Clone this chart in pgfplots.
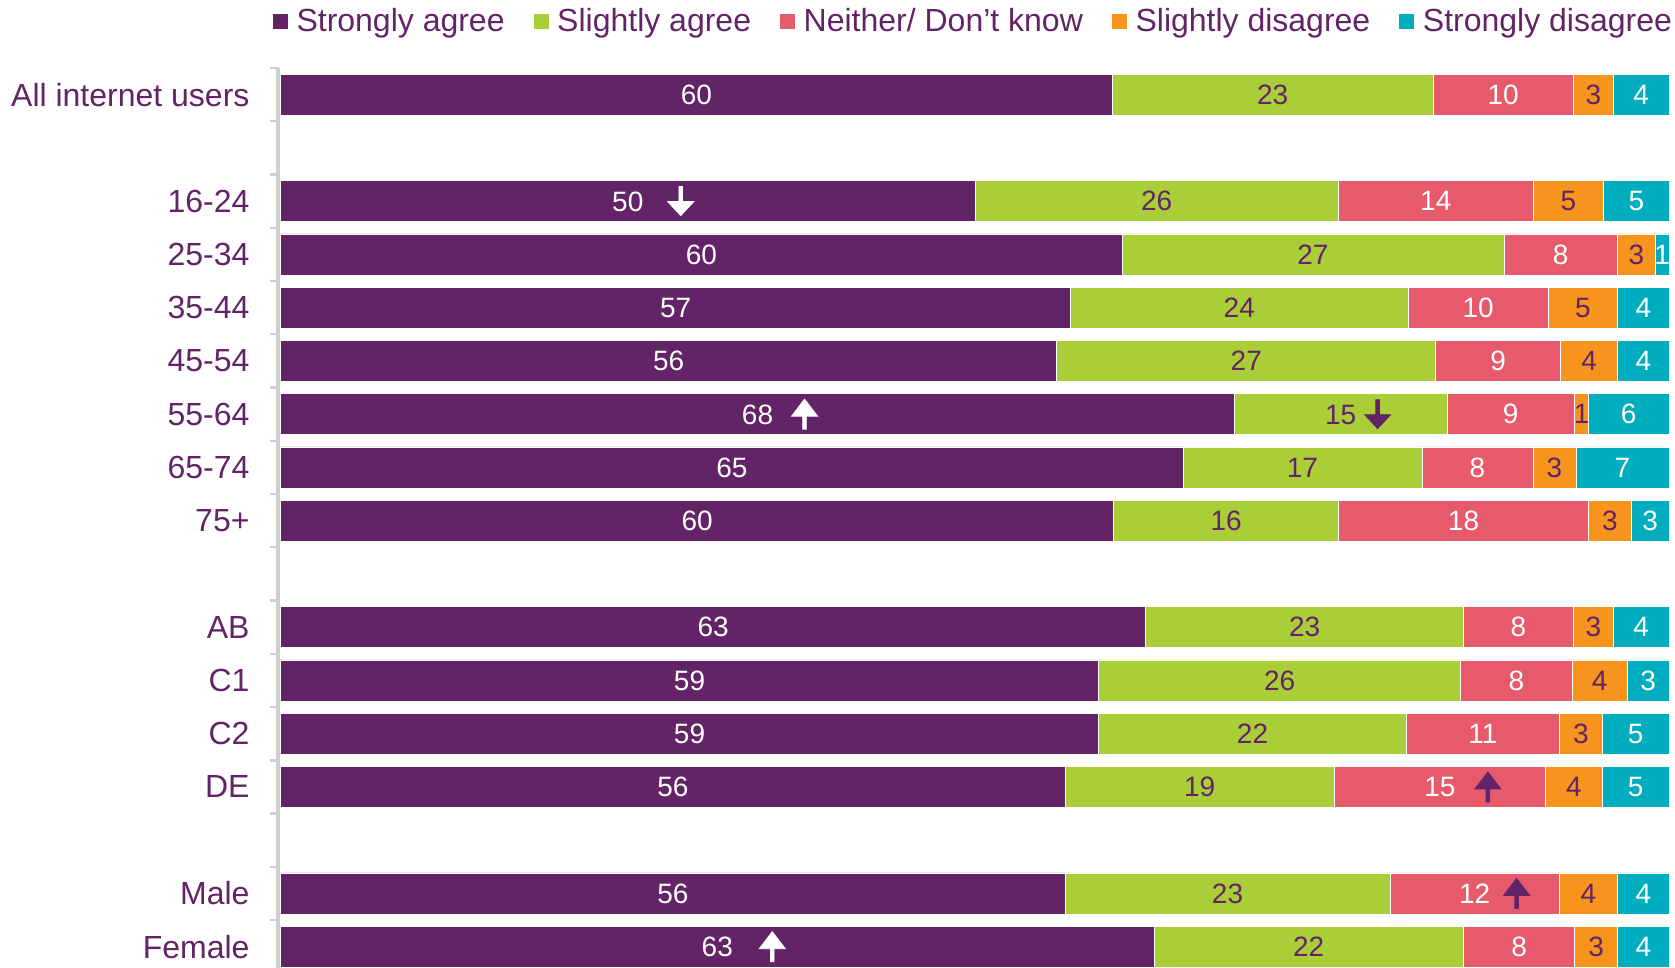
\documentclass[border=0pt]{standalone}
\usepackage{pgfplots}
\pgfplotsset{compat=1.18}
\usepackage{fontspec}
\setmainfont{Liberation Sans}
\definecolor{cP}{HTML}{622466}
\definecolor{cG}{HTML}{A9CE38}
\definecolor{cR}{HTML}{E65A6B}
\definecolor{cO}{HTML}{F7941E}
\definecolor{cT}{HTML}{00ADBF}
\definecolor{cAx}{HTML}{CFCFCF}
\protected\def\UP#1#2{\rlap{\hspace{#1pt}\tikz[baseline=0pt]{\fill[#2] (-0.9pt,-2.5pt) -- (-0.9pt,4pt) -- (-6.5pt,4pt) -- (0pt,12.5pt) -- (6.5pt,4pt) -- (0.9pt,4pt) -- (0.9pt,-2.5pt) -- cycle;}}}
\protected\def\DN#1#2{\rlap{\hspace{#1pt}\tikz[baseline=0pt]{\fill[#2] (-0.9pt,12.5pt) -- (-0.9pt,5pt) -- (-6.5pt,5pt) -- (0pt,-2pt) -- (6.5pt,5pt) -- (0.9pt,5pt) -- (0.9pt,12.5pt) -- cycle;}}}
\begin{document}
\begin{tikzpicture}
\begin{axis}[
  name=ax,
  scale only axis,
  x=6.9416pt, height=450pt,
  xmin=-0.2, xmax=100,
  ymin=-0.5, ymax=16.4,
  y dir=reverse,
  xbar stacked,
  bar width=20.5pt,
  axis x line=none,
  axis y line*=left,
  y axis line style={-, draw=cAx, line width=2pt},
  ytick={0,2,3,4,5,6,7,8,10,11,12,13,15,16},
  yticklabels={All internet users,16-24,25-34,35-44,45-54,55-64,65-74,75+,AB,C1,C2,DE,Male,Female},
  major tick length=0pt,
  minor ytick={-0.5,0.5,...,15.5},
  minor tick length=4pt,
  tick align=outside,
  minor tick style={draw=cAx, line width=1.2pt},
  yticklabel style={font=\fontsize{16}{19}\selectfont, text=cP, inner sep=0pt, xshift=-14pt},
  point meta=explicit symbolic,
  nodes near coords,
  every node near coord/.style={anchor=center, font=\fontsize{14}{16}\selectfont},
  every axis plot post/.append style={legend image code/.code={\fill[##1] (0pt,-4pt) rectangle (8pt,4pt);}},
  legend columns=5,
  legend cell align=left,
  legend style={at={(axis description cs:-0.0043,1.0521)}, anchor=west,
    draw=none, fill=none, inner sep=0pt, outer sep=0pt,
    font=\fontsize{16}{19}\selectfont, text=cP,
    nodes={inner sep=0pt},
    /tikz/every odd column/.append style={column sep=4pt},
    /tikz/every even column/.append style={column sep=14pt}},
]
\addplot[fill=cP, draw=white, line width=0.3pt, every node near coord/.append style={text=white}] coordinates {
(59.9,0) [60] (50.0,2) [50\DN{12}{white}] (60.6,3) [60] (56.9,4) [57] (55.9,5) [56]
(68.7,6) [68\UP{9}{white}] (65.0,7) [65] (60.0,8) [60] (62.3,10) [63] (58.9,11) [59]
(58.9,12) [59] (56.5,13) [56] (56.5,15) [56] (62.9,16) [63\UP{13}{white}]};
\addplot[fill=cG, draw=white, line width=0.3pt, every node near coord/.append style={text=cP}] coordinates {
(23.1,0) [23] (26.2,2) [26] (27.5,3) [27] (24.3,4) [24] (27.3,5) [27]
(15.3,6) [15\DN{4}{cP}] (17.2,7) [17] (16.2,8) [16] (22.9,10) [23] (26.1,11) [26]
(22.2,12) [22] (19.4,13) [19] (23.4,15) [23] (22.3,16) [22]};
\addplot[fill=cR, draw=white, line width=0.3pt, every node near coord/.append style={text=white}] coordinates {
(10.1,0) [10] (14.0,2) [14] (8.2,3) [8] (10.1,4) [10] (9.0,5) [9]
(9.2,6) [9] (8.0,7) [8] (18.0,8) [18] (7.9,10) [8] (8.0,11) [8]
(11.0,12) [11] (15.2,13) [15\UP{9.5}{cP}] (12.2,15) [12\UP{6.5}{cP}] (8.0,16) [8]};
\addplot[fill=cO, draw=white, line width=0.3pt, every node near coord/.append style={text=cP}] coordinates {
(2.9,0) [3] (5.1,2) [5] (2.7,3) [3] (5.0,4) [5] (4.1,5) [4]
(1.0,6) [1] (3.1,7) [3] (3.1,8) [3] (2.9,10) [3] (4.0,11) [4]
(3.1,12) [3] (4.1,13) [4] (4.2,15) [4] (3.1,16) [3]};
\addplot[fill=cT, draw=white, line width=0.3pt, every node near coord/.append style={text=white}] coordinates {
(4.0,0) [4] (4.7,2) [5] (1.0,3) [1] (3.7,4) [4] (3.7,5) [4]
(5.8,6) [6] (6.7,7) [7] (2.7,8) [3] (4.0,10) [4] (3.0,11) [3]
(4.8,12) [5] (4.8,13) [5] (3.7,15) [4] (3.7,16) [4]};
\legend{Strongly agree, Slightly agree, Neither/ Don't know, Slightly disagree, Strongly disagree}
\end{axis}
\pgfresetboundingbox
\path ([xshift=-138.95pt]ax.south west) rectangle ([xshift=3pt,yshift=34pt]ax.north east);
\end{tikzpicture}
\end{document}
